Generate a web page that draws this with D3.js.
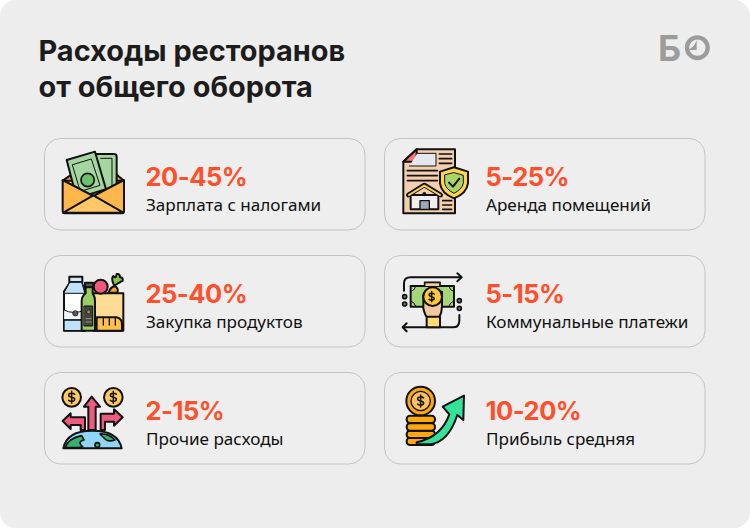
<!DOCTYPE html>
<html>
<head>
<meta charset="utf-8">
<script src="https://cdn.jsdelivr.net/npm/d3@7"></script>
<style>
html, body { margin: 0; padding: 0; background: #fff; }
svg { display: block; }
</style>
</head>
<body>
<div id="mainvis"></div>
<script>
const titleLines = ["Расходы ресторанов", "от общего оборота"];
const ranges = ["20-45%", "5-25%", "25-40%", "5-15%", "2-15%", "10-20%"];
const names = ["Зарплата с налогами", "Аренда помещений", "Закупка продуктов", "Коммунальные платежи", "Прочие расходы", "Прибыль средняя"];
const iconKeys = ["salary", "rent", "food", "utilities", "other", "profit"];

// draws one black outlined shape
function shape(g, path, fill, width) {
    return g.append("path")
        .attr("d", path)
        .style("fill", fill || "none")
        .style("stroke", "#111")
        .style("stroke-width", width || 6)
        .style("stroke-linejoin", "round")
        .style("stroke-linecap", "round");
}

function disc(g, cx, cy, r, fill, width) {
    return g.append("circle")
        .attr("cx", cx).attr("cy", cy).attr("r", r)
        .style("fill", fill)
        .style("stroke", "#111")
        .style("stroke-width", width || 6);
}

function dollar(g, cx, cy, s) {
    let k = s || 1;
    shape(g.append("g").attr("transform", "translate(" + cx + ", " + cy + ") scale(" + k + ")"),
        "M9,-9 C5,-14 -9,-14 -9,-6 C-9,2 9,-2 9,6 C9,14 -5,14 -9,9 M0,-18 V18", "none", 4.5 / k);
}

const icons = {
    salary: function(g) {
        shape(g, "M68,152 L100,130 L225,130 L252,152 Z", "#f59f2f");
        shape(g, "M165,72 H222 Q230,72 230,80 V178 H165 Z", "#a6d6a0");
        shape(g, "M182,85 L216,85 L216,170", "none", 3);
        shape(g, "M80,90 L165,65 L198,178 L110,205 Z", "#a6d6a0");
        shape(g, "M98,104 L154,87 L180,166 L122,184 Z", "none", 3);
        disc(g, 143, 150, 20, "#6cc070", 5);
        shape(g, "M68,150 L160,198 L252,150 V244 Q252,250 246,250 H74 Q68,250 68,244 Z", "#ffb64a");
        shape(g, "M70,248 L160,196 L250,248 Z", "#ffc766");
    },
    rent: function(g) {
        shape(g, "M70,95 L110,58 H225 V250 H70 Z", "#f3cfae");
        shape(g, "M70,95 L110,58 V95 Z", "#f8756a");
        shape(g, "M112,70 H168 V108 H88", "#e3e8ef", 3);
        shape(g, "M178,72 H215 M178,86 H215 M178,100 H215 M82,122 H172 M82,137 H172 M82,152 H172 M188,212 H215 M188,225 H215 M188,238 H215", "none", 5);
        shape(g, "M222,112 L264,125 V160 Q260,190 222,205 Q184,190 180,160 V125 Z", "#ffd54f");
        shape(g, "M222,128 L250,136 V160 Q246,178 222,190 Q198,178 194,160 V136 Z", "#a8d468", 3);
        shape(g, "M207,158 L219,170 L238,146", "none", 6);
        shape(g, "M92,195 H175 V238 H92 Z", "#eeeeee");
        shape(g, "M85,195 L133,165 L182,195", "none", 14);
        shape(g, "M87,195 L133,167 L180,195", "none", 6).style("stroke", "#ffd54f");
        shape(g, "M120,212 H148 V238 H120 Z", "#9aa8ba", 4);
        disc(g, 133, 192, 5, "#111", 2);
    },
    food: function(g) {
        shape(g, "M160,130 H250 V242 H160 Z", "#ffdc95");
        disc(g, 182, 110, 21, "#f2587e");
        shape(g, "M205,128 Q215,105 228,110 Q236,118 232,128 Z", "#f5a623");
        shape(g, "M222,105 Q212,85 220,78 Q228,88 230,72 Q240,70 240,82 Q250,82 248,92 Q238,98 226,105 Z", "#8bc34a");
        shape(g, "M170,202 H230 Q246,206 246,222 V242 H170 Z", "#ffc04d");
        shape(g, "M190,205 V225 M208,205 V225 M226,205 V225", "none", 4);
        shape(g, "M88,80 H127 V97 H88 Z", "#cfe8fb");
        shape(g, "M90,97 H125 L135,125 V242 H72 V125 Z", "#ffffff");
        shape(g, "M90,97 H125 L135,130 H72 Z", "#bfe2fb", 3);
        shape(g, "M72,180 Q100,195 135,180 V210 H72 Z", "#eef6fc", 3);
        shape(g, "M72,210 H135 V242 H72 Z", "#bfe2fb", 4);
        disc(g, 106, 190, 8, "#555", 2);
        shape(g, "M135,98 H160 V112 H135 Z", "#555");
        shape(g, "M137,112 H158 V130 Q165,140 165,152 V242 H125 V152 Q125,140 137,130 Z", "#9ccc65");
        shape(g, "M133,168 H158 V228 H133 Z", "#444", 3);
        disc(g, 146, 186, 6, "#9c8a5a", 2);
        shape(g, "M138,206 H154 M138,216 H154", "none", 2).style("stroke", "#bbb");
    },
    utilities: function(g) {
        shape(g, "M72,122 V100 Q72,82 92,82 H240");
        shape(g, "M232,70 L245,82 L232,94");
        shape(g, "M238,195 V212 Q238,232 218,232 H70");
        shape(g, "M80,220 L68,232 L80,244");
        [[74, 140], [74, 162], [238, 152], [238, 175]].forEach(c => disc(g, c[0], c[1], 6, "#777", 5));
        shape(g, "M92,108 H222 V170 H92 Z", "#a5d67a");
        shape(g, "M92,125 Q104,122 108,108 M206,108 Q210,122 222,125 M92,153 Q104,156 108,170 M206,170 Q210,156 222,153", "none", 3);
        shape(g, "M130,135 V175 Q135,198 142,202 H178 Q185,190 186,170 V125 Z", "#f2c9a0");
        shape(g, "M134,108 V97 H180 V108", "#f2c9a0", 5);
        disc(g, 158, 140, 28, "#ffc93c");
        dollar(g, 155, 140, 0.85);
        shape(g, "M140,200 H180 V232 H140 Z", "#ffdb70");
    },
    other: function(g) {
        disc(g, 95, 97, 28, "#ffc95c");
        dollar(g, 95, 97);
        disc(g, 220, 97, 28, "#ffc95c");
        dollar(g, 220, 97);
        shape(g, "M70,250 Q80,197 157,197 Q235,197 245,250 Z", "#8fd6f5");
        shape(g, "M75,248 Q85,220 125,212 L132,225 Q110,230 128,245 L118,248 Z", "#35b36c", 5);
        shape(g, "M180,207 Q205,205 225,225 Q205,232 195,222 Z", "#35b36c", 5);
        disc(g, 172, 240, 7, "#35b36c", 5);
        shape(g, "M68,168 L92,145 V157 H135 V195 H122 V180 H92 V192 Z", "#ef5a7f");
        shape(g, "M248,157 L222,133 V146 H182 V195 H195 V170 H222 V182 Z", "#ef5a7f");
        shape(g, "M155,95 L180,125 H167 V195 H145 V125 H132 Z", "#ef5a7f");
    },
    profit: function(g) {
        [218, 197, 175, 152].forEach(y => {
            g.append("rect").attr("x", 80).attr("y", y).attr("width", 85).attr("height", 22).attr("rx", 10)
                .style("fill", "#ffa90e").style("stroke", "#111").style("stroke-width", 6);
        });
        disc(g, 122, 108, 43, "#ffa90e");
        disc(g, 122, 108, 29, "#ffc060", 4);
        dollar(g, 122, 108);
        shape(g, "M110,232 Q185,215 208,148 L188,125 L252,92 L250,165 L232,150 Q205,232 150,238 H110 Z", "#35e29a");
    }
};

let svg = d3.select("#mainvis")
    .append("svg")
    .attr("width", 750)
    .attr("height", 528);

svg.append("rect")
    .attr("width", 750)
    .attr("height", 528)
    .attr("rx", 16)
    .style("fill", "#ededed");

svg.selectAll(".title")
    .data(titleLines)
    .enter()
    .append("text")
    .attr("class", "title")
    .attr("x", 38.5)
    .attr("y", (d, i) => 61 + i * 36)
    .style("font", "700 28.9px Inter")
    .style("fill", "#1c1c1c")
    .text(d => d);

// logo
let logo = svg.append("g").attr("transform", "translate(640, 20) scale(0.3333)");
logo.append("text")
    .attr("x", 54)
    .attr("y", 122)
    .style("font", "700 107px Inter")
    .style("fill", "#9c9c9c")
    .text("Б");
logo.append("circle").attr("cx", 172).attr("cy", 83).attr("r", 31)
    .style("fill", "none").style("stroke", "#9c9c9c").style("stroke-width", 13);
logo.append("path").attr("d", "M170,60 L170,90 L140,90 Q163,84 170,60 Z").style("fill", "#9c9c9c");

let colScale = d3.scaleOrdinal().domain([0, 1]).range([44, 384]);
let rowScale = d3.scaleOrdinal().domain([0, 1, 2]).range([138, 255, 372]);
// offset between the crop coords the icons are drawn in and the card corner
let iconOffset = { 0: 8, 1: 5, 2: 7 };

let cards = svg.selectAll(".card")
    .data(ranges)
    .enter()
    .append("g")
    .attr("class", "card")
    .attr("transform", (d, i) => "translate(" + colScale(i % 2) + ", " + rowScale(Math.floor(i / 2)) + ")");

cards.append("rect")
    .attr("x", 0.5)
    .attr("y", 0.5)
    .attr("width", 320.5)
    .attr("height", 91.5)
    .attr("rx", 16)
    .style("fill", "#eeeeee")
    .style("stroke", "#c4c4c4")
    .style("stroke-width", 1);

cards.append("text")
    .attr("x", 101.5)
    .attr("y", 48)
    .style("font", "700 25.5px Inter")
    .style("letter-spacing", "-0.5px")
    .style("fill", "#ff4f2b")
    .text(d => d);

cards.append("text")
    .attr("x", 102)
    .attr("y", 73)
    .style("font", "400 17.1px 'Noto Sans'")
    .style("fill", "#111")
    .text((d, i) => names[i]);

cards.each(function(d, i) {
    let g = d3.select(this).append("g")
        .attr("transform", "translate(-4, " + (-iconOffset[Math.floor(i / 2)]) + ") scale(0.3333)");
    icons[iconKeys[i]](g);
});
</script>
</body>
</html>
